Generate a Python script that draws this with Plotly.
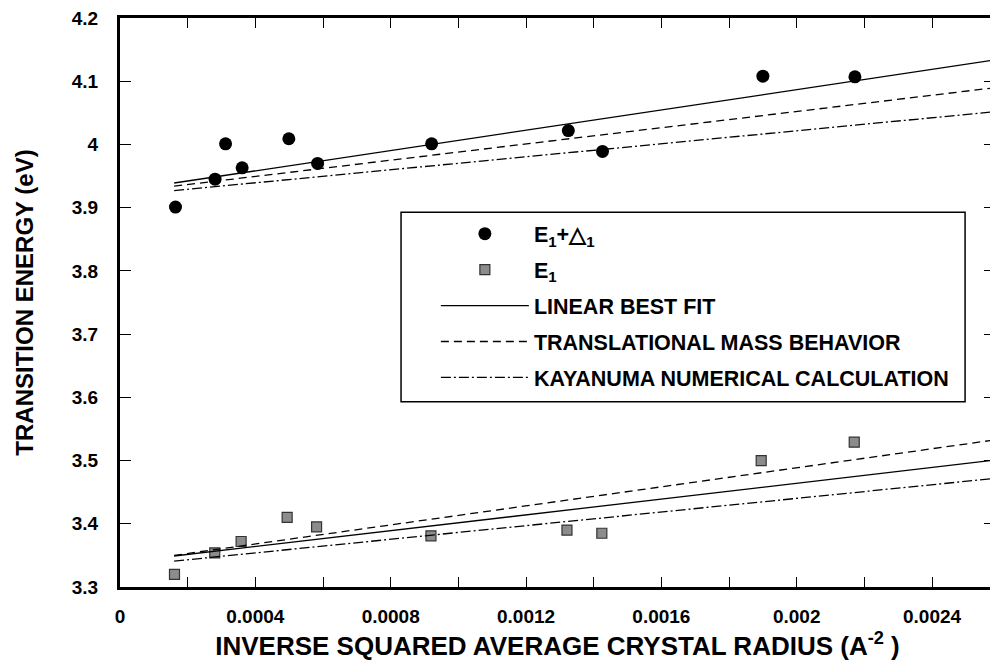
import plotly.graph_objects as go

# ---- data ----
x_pts = [0.000164, 0.000281, 0.000312, 0.000361, 0.000499, 0.000584, 0.000921, 0.001325, 0.001426, 0.001900, 0.002172]
e1_delta = [3.901, 3.945, 4.001, 3.963, 4.009, 3.970, 4.001, 4.022, 3.989, 4.108, 4.107]

xs_pts = [0.000161, 0.000280, 0.000358, 0.000494, 0.000581, 0.000919, 0.001321, 0.001424, 0.001895, 0.002170]
e1 = [3.320, 3.354, 3.372, 3.410, 3.395, 3.381, 3.390, 3.385, 3.500, 3.529]

fit_x = [0.00016, 0.00259]
upper_linear = [3.939, 4.134]
upper_trans = [3.934, 4.090]
upper_kaya = [3.927, 4.052]
lower_linear = [3.349, 3.501]
lower_trans = [3.350, 3.533]
lower_kaya = [3.341, 3.472]

x_tickvals = [0, 0.0002, 0.0004, 0.0006, 0.0008, 0.001, 0.0012, 0.0014, 0.0016, 0.0018, 0.002, 0.0022, 0.0024]
x_ticktext = ["0", "", "0.0004", "", "0.0008", "", "0.0012", "", "0.0016", "", "0.002", "", "0.0024"]
y_tickvals = [3.3, 3.4, 3.5, 3.6, 3.7, 3.8, 3.9, 4.0, 4.1, 4.2]
y_ticktext = ["3.3", "3.4", "3.5", "3.6", "3.7", "3.8", "3.9", "4", "4.1", "4.2"]

FONT = "Liberation Sans, Arial, Helvetica, sans-serif"

fig = go.Figure()

fig.add_trace(go.Scatter(
    x=x_pts, y=e1_delta, mode="markers", legendgroup="a",
    name="E<sub>1</sub>+△<sub>1</sub>",
    marker=dict(symbol="circle", size=13, color="black")))
fig.add_trace(go.Scatter(
    x=xs_pts, y=e1, mode="markers", legendgroup="b",
    name="E<sub>1</sub>",
    marker=dict(symbol="square", size=10, color="#8c8c8c", line=dict(color="#333", width=1.2))))

line_specs = [
    ("LINEAR BEST FIT", "solid", upper_linear, lower_linear, "c"),
    ("TRANSLATIONAL MASS BEHAVIOR", "8px,5px", upper_trans, lower_trans, "d"),
    ("KAYANUMA NUMERICAL CALCULATION", "10px,3px,2px,3px", upper_kaya, lower_kaya, "e"),
]
for name, dash, up, lo, grp in line_specs:
    fig.add_trace(go.Scatter(x=fit_x, y=up, mode="lines", name=name, legendgroup=grp,
                             line=dict(color="black", width=1.3, dash=dash)))
    fig.add_trace(go.Scatter(x=fit_x, y=lo, mode="lines", name=name, legendgroup=grp,
                             showlegend=False, line=dict(color="black", width=1.3, dash=dash)))

axis_common = dict(showline=True, linecolor="black", mirror="ticks", ticks="inside",
                   tickcolor="black", tickwidth=1.2, showgrid=False, zeroline=False,
                   ticklabeloverflow="allow",
                   tickfont=dict(family=FONT, size=19, color="black", weight="bold"))

fig.update_layout(
    width=990, height=658,
    margin=dict(l=112, r=0, t=8, b=79),
    plot_bgcolor="white", paper_bgcolor="white",
    font=dict(family=FONT, color="black", weight="bold"),
    xaxis=dict(range=[0, 0.002586], tickvals=x_tickvals, ticktext=x_ticktext, ticklen=10,
               linewidth=2.5, ticklabelstandoff=10,
               title=dict(text="INVERSE SQUARED AVERAGE CRYSTAL RADIUS (A<sup>-2</sup> )",
                          font=dict(family=FONT, size=26, color="black", weight="bold"), standoff=12),
               **axis_common),
    yaxis=dict(range=[3.3, 4.2], tickvals=y_tickvals, ticktext=y_ticktext, ticklen=11,
               linewidth=3, ticklabelstandoff=15,
               title=dict(text="TRANSITION ENERGY (eV)",
                          font=dict(family=FONT, size=24, color="black", weight="bold"), standoff=32),
               **axis_common),
    legend=dict(x=0.361, y=0.657, xanchor="left", yanchor="top", bgcolor="rgba(0,0,0,0)",
                borderwidth=0, traceorder="grouped", tracegroupgap=5, itemwidth=88,
                font=dict(family=FONT, size=21.5, color="black", weight="bold")),
    shapes=[dict(type="rect", xref="paper", yref="paper", x0=0.3212, x1=0.9658, y0=0.3257, y1=0.6585,
                 line=dict(color="black", width=1.5), fillcolor="white", layer="below")],
    showlegend=True,
)

fig.write_html("out.html")
